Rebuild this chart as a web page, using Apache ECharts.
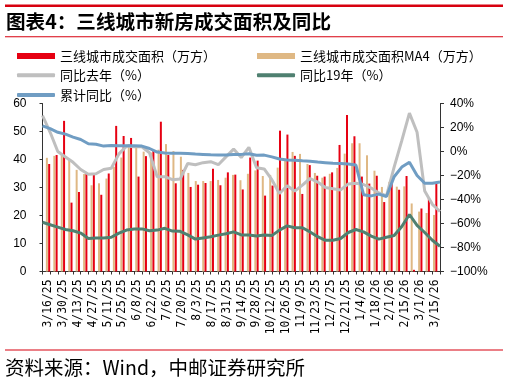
<!DOCTYPE html>
<html>
<head>
<meta charset="utf-8">
<script src="https://cdn.jsdelivr.net/npm/echarts@6/dist/echarts.min.js"></script>
<style>
html,body{margin:0;padding:0;background:#fff;}
#c{width:509px;height:385px;}
</style>
</head>
<body>
<div id="c"></div>
<script>
const categories = ['3/16/25','3/23/25','3/30/25','4/6/25','4/13/25','4/20/25','4/27/25','5/4/25','5/11/25','5/18/25','5/25/25','6/1/25','6/8/25','6/15/25','6/22/25','6/29/25','7/6/25','7/13/25','7/20/25','7/27/25','8/3/25','8/10/25','8/17/25','8/24/25','8/31/25','9/7/25','9/14/25','9/21/25','9/28/25','10/5/25','10/12/25','10/19/25','10/26/25','11/2/25','11/9/25','11/16/25','11/23/25','11/30/25','12/7/25','12/14/25','12/21/25','12/28/25','1/4/26','1/11/26','1/18/26','1/25/26','2/1/26','2/8/26','2/15/26','2/22/26','3/1/26','3/8/26','3/15/26'];

const area = [38.4,41.6,53.8,24.6,28.4,34.8,34.9,27.4,35.0,52.0,48.4,47.7,33.9,41.2,43.2,53.5,41.6,31.5,36.3,30.2,31.0,31.6,36.7,30.8,35.4,34.6,29.3,40.7,39.6,27.1,30.7,50.3,48.9,41.3,27.7,38.0,34.2,33.9,35.4,45.2,55.9,48.3,33.9,31.4,34.2,24.8,31.8,29.2,34.1,0.6,22.5,26.4,31.5];

const areaMA4 = [40.6,41.3,42.0,39.8,36.3,34.8,30.8,31.5,33.2,37.4,40.7,45.5,45.0,42.8,42.5,43.5,45.5,43.0,41.0,35.2,32.3,32.3,32.3,32.7,33.5,34.5,32.6,34.9,36.1,34.1,34.5,37.1,39.6,42.7,42.0,38.4,35.2,33.5,34.9,37.0,42.1,45.8,45.8,41.5,36.0,30.2,32.0,30.3,30.4,24.3,21.4,20.9,20.2];

const yoyLastYear = [30,16,0,-4.5,-9,-15,-19,-18.5,-15,-14,-2,4.5,4,4,-1,-21,-21,-23.5,-23,-10,-11,-9.3,-8.5,-11,-4.5,2,-5,3.5,-13.5,-14.5,-23.5,-35,-28.5,-33,-28,-22.5,-25.5,-30,-31,-32,-27,-26.5,-27.5,-30.5,-34.5,-37,-13,9,32,16,-33,-44,-50];

const yoy2019 = [-59,-61,-63,-65,-66,-68,-72.5,-72,-72,-71.5,-68,-65.5,-64.5,-64.5,-66,-65.5,-64,-66.3,-66.5,-69.5,-73,-72,-71,-69.7,-68.5,-67,-69.5,-69.6,-70.4,-69.6,-70.1,-65.5,-62,-63.5,-63.5,-67,-71,-74,-74,-72.5,-67.5,-65,-67,-70.5,-73,-71.5,-70,-62.5,-52.5,-61.5,-67.5,-74,-79];

const cumYoY = [21.3,19,16,14.5,12,10,6.5,6,4.5,5,4.8,4.8,4.8,4.5,2.5,-0.5,-1.2,-1.4,-1.5,-1.7,-2.1,-2.4,-2.7,-2.9,-3,-2.5,-2.4,-1.8,-3.2,-3,-4.5,-6.3,-7,-7.3,-7.8,-8.2,-8.8,-9.3,-9.8,-10.1,-10.4,-11.3,-36,-37,-35.5,-37.5,-21,-13,-9,-20,-26.5,-26.5,-25.5];

const leftAxis = {min: 0, max: 60, interval: 10};
const rightAxis = {min: -100, max: 40, interval: 20};

const names = {
  area: '三线城市成交面积（万方）',
  ma4: '三线城市成交面积MA4（万方）',
  yoy: '同比去年（%）',
  y19: '同比19年（%）',
  cum: '累计同比（%）'
};

const CJK = '"Noto Sans CJK SC", sans-serif';
const colors = {red:'#e60012', tan:'#dfb884', gray:'#bfbfbf', green:'#4f8070', blue:'#709dc3', rule:'#d7000f'};

const chart = echarts.init(document.getElementById('c'), null, {renderer:'canvas'});

function legend(name, left, cy, h, icon){
  return {
    data:[name], left:left, top: cy - 8, itemWidth:38, itemHeight:h, icon:icon,
    padding:0, selectedMode:false,
    textStyle:{fontFamily:CJK, fontSize:13, color:'#000', lineHeight:16}
  };
}

const option = {
  animation:false,
  backgroundColor:'#fff',
  graphic:[
    {type:'rect', shape:{x:5, y:4.5, width:498, height:2.5}, style:{fill:colors.rule}},
    {type:'rect', shape:{x:5, y:36.3, width:498, height:1}, style:{fill:colors.rule}},
    {type:'rect', shape:{x:5, y:349.5, width:498, height:1}, style:{fill:colors.rule}},
    {type:'text', left:6, top:12, style:{text:'图表4：三线城市新房成交面积及同比', font:'bold 19.6px ' + CJK, fill:'#000'}},
    {type:'text', left:5, top:358, style:{text:'资料来源：Wind，中邮证券研究所', font:'19.5px ' + CJK, fill:'#000'}}
  ],
  legend:[
    legend(names.area, 17, 56, 6, 'rect'),
    legend(names.ma4, 257, 56, 6, 'rect'),
    legend(names.yoy, 17, 75.3, 4, 'roundRect'),
    legend(names.y19, 257, 75.3, 4, 'roundRect'),
    legend(names.cum, 17, 95, 4, 'roundRect')
  ],
  grid:[
    {left:44.3, width:394.6, top:103.5, height:168},
    {left:42.5, width:397.5, top:103.5, height:168}
  ],
  xAxis:[
    {gridIndex:0, type:'category', data:categories, boundaryGap:true,
     axisLine:{show:false}, axisTick:{show:false},
     axisLabel:{interval:1, rotate:90, margin:8, fontFamily:'"DejaVu Sans Mono", monospace', fontSize:11.4, color:'#000'}},
    {gridIndex:1, type:'category', data:categories, boundaryGap:false,
     axisLine:{show:true, lineStyle:{color:'#333', width:1}},
     axisTick:{show:true, interval:0, length:3, lineStyle:{color:'#333'}},
     axisLabel:{show:false}}
  ],
  yAxis:[
    {gridIndex:0, type:'value', min:leftAxis.min, max:leftAxis.max, show:false},
    {gridIndex:1, type:'value', position:'left', min:leftAxis.min, max:leftAxis.max, interval:leftAxis.interval,
     axisLine:{show:true, lineStyle:{color:'#333'}}, axisTick:{show:true, length:3, lineStyle:{color:'#333'}},
     splitLine:{show:false},
     axisLabel:{margin:16, fontFamily:'"Liberation Sans", Arial', fontSize:12, color:'#000'}},
    {gridIndex:1, type:'value', position:'right', min:rightAxis.min, max:rightAxis.max, interval:rightAxis.interval,
     axisLine:{show:true, lineStyle:{color:'#333'}}, axisTick:{show:true, length:4, lineStyle:{color:'#333'}},
     splitLine:{show:false},
     axisLabel:{margin:10, fontFamily:'"Liberation Sans", Arial', fontSize:12, color:'#000',
       formatter: v => (v < 0 ? '\u2212' + Math.abs(v) : String(v)) + '%'}}
  ],
  series:[
    {name:names.ma4, type:'bar', xAxisIndex:0, yAxisIndex:0, data:areaMA4, barWidth:2, barGap:'15%', itemStyle:{color:colors.tan}},
    {name:names.area, type:'bar', xAxisIndex:0, yAxisIndex:0, data:area, barWidth:2, barGap:'15%', itemStyle:{color:colors.red}},
    {name:names.yoy, type:'line', xAxisIndex:1, yAxisIndex:2, data:yoyLastYear, symbol:'none', lineStyle:{width:3, color:colors.gray}, itemStyle:{color:colors.gray}, z:3},
    {name:names.y19, type:'line', xAxisIndex:1, yAxisIndex:2, data:yoy2019, symbol:'none', lineStyle:{width:3, color:colors.green}, itemStyle:{color:colors.green}, z:4},
    {name:names.cum, type:'line', xAxisIndex:1, yAxisIndex:2, data:cumYoY, symbol:'none', lineStyle:{width:3, color:colors.blue}, itemStyle:{color:colors.blue}, z:5}
  ]
};
chart.setOption(option);
</script>
</body>
</html>
